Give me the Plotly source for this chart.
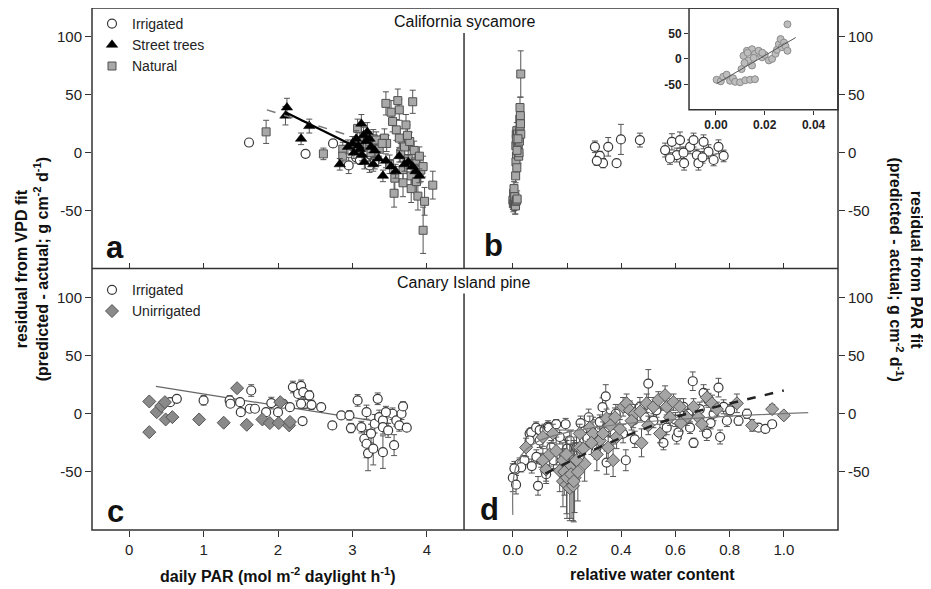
import plotly.graph_objects as go

# ---------------- DATA ----------------
# Panel a (California sycamore, residual from VPD fit vs daily PAR)
a_irr_x = [1.61, 2.37, 2.74, 2.95, 3.23, 3.05, 3.30, 3.10]
a_irr_y = [8.8, -1, 8, -11, -11, -4, -8, -6]
a_irr_e = [0, 3, 3, 7, 6, 5, 6, 4]

a_st_x = [2.12, 2.10, 2.42, 2.31, 2.83, 2.94, 3.00, 3.05, 3.08, 3.12, 3.15, 3.18, 3.20, 3.23, 3.25, 3.10,
          3.16, 3.30, 3.35, 3.41, 3.45, 3.52, 3.58, 3.63, 3.70, 3.75, 3.81, 3.85, 3.90, 3.02, 3.13, 3.28]
a_st_y = [39, 32, 23, 12, -10, 5, 8, 12, 6, 25, 15, 10, 18, 12, 5, 3,
          -8, 2, -5, -20, -7, -12, -16, -3, -10, -8, -12, -16, -20, 0, -2, -10]
a_st_e = [8, 8, 6, 5, 5, 6, 6, 7, 6, 8, 7, 6, 8, 6, 5, 5,
          6, 5, 6, 5, 6, 6, 6, 5, 6, 6, 6, 6, 6, 5, 5, 6]

a_nat_x = [1.84, 2.61, 2.87, 2.87, 3.07, 3.10, 3.20, 3.28, 3.32, 3.36, 3.43, 3.45, 3.46, 3.50, 3.54,
           3.56, 3.59, 3.61, 3.63, 3.63, 3.65, 3.68, 3.68, 3.70, 3.72, 3.75, 3.77, 3.79, 3.79, 3.81,
           3.83, 3.85, 3.88, 3.90, 3.92, 3.95, 3.95, 3.97, 4.08, 3.52, 3.40, 3.25, 3.57, 3.74, 3.86]
a_nat_y = [18, -1, 3, -3, 21, 10, 5, 12, 11, 3, 12.6, 42.6, 8, -10, 27,
           -35, 19.7, 45, 37, 12.6, 0, -14.6, -26, 5, 24, -5, 9.7, -20, -31, 44,
           2, -8, -37.5, -3, -15, -12, -67, -42, -28, 35, 8, 0, -22, 15, -25]
a_nat_e = [10, 5, 6, 5, 8, 8, 7, 8, 7, 6, 8, 10, 7, 8, 9,
           12, 9, 10, 9, 8, 8, 10, 12, 8, 9, 8, 8, 10, 12, 10,
           8, 8, 12, 8, 10, 9, 20, 12, 12, 10, 7, 6, 10, 9, 10]

a_fit_st_x = [2.10, 2.98]
a_fit_st_y = [35, 7]
a_fit_all_x = [1.85, 3.00]
a_fit_all_y = [37, 14]

# Panel b (California sycamore, residual from PAR fit vs relative water content)
b_nat_x = [0.0003, 0.002, 0.003, 0.0044, 0.0058, 0.007, 0.0079, 0.0099, 0.012, 0.014, 0.016, 0.0105,
           0.0113, 0.0127, 0.0148, 0.0134, 0.0117, 0.0148, 0.016, 0.0175, 0.0189, 0.020, 0.0217, 0.023,
           0.0244, 0.025, 0.0258, 0.0265, 0.027, 0.0279, 0.0285, 0.0293, 0.0293, 0.013, 0.0155, 0.019]
b_nat_y = [-41, -44, -35, -31, -43, -38, -45, -46, -42, -41, -40, -20,
           6, 16, 19, -3, -8, -13, 10, 16, 3, 8, -3, 0,
           10, 18, 29, 39, 23, 32, 25, 16, 68, 12, 2, 12]
b_nat_e = [8, 7, 6, 6, 7, 6, 8, 7, 6, 6, 7, 6,
           6, 6, 7, 6, 6, 6, 6, 7, 6, 6, 6, 6,
           6, 7, 8, 9, 7, 8, 7, 6, 20, 6, 6, 6]

b_irr_x = [0.303, 0.321, 0.352, 0.333, 0.310, 0.383, 0.399, 0.469, 0.562, 0.587, 0.605, 0.617, 0.632,
           0.654, 0.667, 0.679, 0.685, 0.704, 0.722, 0.741, 0.759, 0.778, 0.580, 0.630, 0.700]
b_irr_y = [5.1, -2.8, 5.1, -9, -7, -9, 11.5, 10.9, 2.3, 9.4, -2, 10.9, -9,
           5.1, 10.9, -2, -9, 9.4, 0.9, -6.3, 5.1, -2.8, -5, 0, -4]
b_irr_e = [5, 4, 8, 4, 4, 0, 13, 6, 6, 7, 6, 7, 6,
           6, 6, 5, 6, 6, 6, 5, 6, 5, 5, 5, 5]

# Inset fit (panel b column)
b_fit_x = [0.0003, 0.0327]
b_fit_y = [-48.6, 42]

# Panel c (Canary Island pine, residual from VPD fit vs daily PAR)
c_irr_x = [0.55, 0.64, 1.00, 1.35, 1.36, 1.49, 1.50, 1.62, 1.64, 1.69, 1.84, 1.91, 2.00, 2.07, 2.16,
           2.20, 2.27, 2.31, 2.34, 2.36, 2.42, 2.45, 2.31, 2.33, 2.58, 2.73, 2.85, 2.96, 2.98, 3.07,
           3.12, 3.16, 3.19, 3.19, 3.21, 3.25, 3.30, 3.34, 3.36, 3.41, 3.41, 3.28, 3.41, 3.48, 3.54,
           3.56, 3.59, 3.63, 3.66, 3.68, 3.73, 3.45]
c_irr_y = [10, 12.9, 11.5, 11.5, 8.6, 10, 1.4, 4.3, 20, 4.3, 1.4, 9.2, 1.4, 8.6, 5.7,
           23, 17, 24, 18.6, 8.6, 15.8, 7.7, 8.6, -6.3, 5.7, -10, -1.4, -1.4, -12.3, 11.5,
           -11.5, -21.5, 1.4, -25.8, -34, -17, -8.6, 12.9, -2.9, -5.7, -11.5, -30, -33, -14.3, 0,
           -27, -5.7, -10, 0, 6.3, -12, 1.4]
c_irr_e = [0, 0, 4, 4, 0, 0, 0, 0, 5, 0, 0, 5, 0, 0, 0,
           5, 6, 5, 5, 4, 4, 4, 4, 0, 0, 0, 0, 4, 4, 5,
           5, 6, 6, 12, 15, 8, 8, 5, 6, 6, 6, 14, 14, 6, 5,
           9, 5, 5, 5, 4, 0, 5]

c_un_x = [0.27, 0.27, 0.37, 0.43, 0.48, 0.49, 0.58, 0.94, 1.27, 1.45, 1.58, 1.79, 1.89, 2.01, 2.03,
          2.15, 2.16]
c_un_y = [10.6, -15.8, 1.4, 6.6, 10, -4.9, -2.9, -4.9, -7.7, 22, -9.5, -4.9, -8, -8, 10, -10, -7]

c_fit_x = [0.36, 3.50]
c_fit_y = [23.5, -8.3]

# Panel d (Canary Island pine, residual from PAR fit vs relative water content)
d_irr_x = [0.0, 0.012, 0.010, 0.025, 0.043, 0.031, 0.006, 0.062, 0.068, 0.062, 0.086, 0.099, 0.099,
           0.093, 0.105, 0.087, 0.117, 0.130, 0.133, 0.160, 0.195, 0.142, 0.123, 0.173, 0.210, 0.235,
           0.272, 0.296, 0.321, 0.346, 0.331, 0.343, 0.309, 0.370, 0.407, 0.417, 0.346, 0.444, 0.488,
           0.500, 0.469, 0.519, 0.556, 0.568, 0.605, 0.611, 0.630, 0.648, 0.664, 0.667, 0.654, 0.704,
           0.716, 0.741, 0.759, 0.765, 0.778, 0.790, 0.802, 0.833, 0.864, 0.907, 0.932, 0.957, 0.722,
           0.250, 0.280, 0.380, 0.450, 0.530, 0.600, 0.690, 0.730, 0.550, 0.200, 0.150, 0.070]
d_irr_y = [-55, -61, -48, -43, -40, -46, -47, -17, -16, -23, -12, -14, -23,
           -62, -40, -37, -14, -11, -12, -9, -9, -29, -52, -20, -23, -29,
           -20, -9, -7, -12, 5.7, 15, -29, -17, -17, -40, -42, -6, -3,
           26, 6, -6, -25, -12, -20, -16, 6, 0, 28, -25, -12, 18,
           -17, 0, 22.5, -20, 6, -6, 3, -6, 0, -12, -13, -9, 11.6,
           -8, -3, 0, -22, 3, -5, 4, -8, 10, -30, -40, -45]
d_irr_e = [12, 8, 5, 5, 4, 4, 6, 4, 4, 5, 5, 4, 6,
           8, 6, 6, 5, 5, 4, 4, 5, 6, 8, 6, 8, 9,
           8, 6, 6, 7, 8, 10, 10, 8, 8, 9, 10, 6, 7,
           12, 8, 6, 6, 6, 6, 5, 7, 6, 8, 4, 5, 7,
           6, 6, 8, 6, 6, 5, 5, 4, 4, 3, 3, 3, 6,
           6, 7, 8, 7, 6, 6, 6, 5, 7, 8, 7, 6]

d_un_x = [0.111, 0.136, 0.173, 0.185, 0.198, 0.210, 0.222, 0.228, 0.210, 0.185, 0.160, 0.247, 0.265,
          0.284, 0.296, 0.321, 0.333, 0.352, 0.370, 0.383, 0.395, 0.407, 0.420, 0.432, 0.450, 0.438,
          0.475, 0.494, 0.519, 0.537, 0.562, 0.568, 0.593, 0.617, 0.543, 0.580, 0.642, 0.667, 0.685,
          0.698, 0.716, 0.735, 0.753, 0.827, 0.883, 0.957, 1.000, 0.123, 0.049, 0.111, 0.198, 0.235,
          0.148, 0.247, 0.290, 0.346, 0.377, 0.190, 0.200, 0.215, 0.225, 0.240, 0.260, 0.310, 0.360,
          0.470, 0.500, 0.620]
d_un_y = [-40, -35, -49, -58, -61, -64, -62, -55, -46, -40, -32, -29, -43,
          -12, -17, -23, -17, -29, -40, -20, -13, 6, 9, 3, 0, -6,
          -25, 9, 6, 12, 16, 6, 10, 6, -17, -3, -3, 6, -3,
          -9, 14, 9, 4, 9, -10, 4, -1.4, -48, -29, -20, -35, -40,
          -17, -17, -25, -4, -3, -50, -55, -52, -58, -50, -30, -35, -10,
          2, -10, -8]
d_un_e = [10, 10, 18, 22, 25, 28, 30, 30, 20, 15, 12, 12, 15,
          10, 10, 12, 10, 12, 14, 10, 8, 8, 8, 8, 8, 8,
          12, 8, 8, 7, 8, 7, 7, 7, 8, 7, 7, 7, 6,
          6, 7, 7, 6, 8, 5, 4, 3, 10, 8, 8, 12, 15,
          8, 8, 10, 8, 8, 20, 35, 38, 35, 25, 12, 14, 10,
          8, 8, 7]

d_fit_log_x = [0.0, 0.005, 0.03, 0.09, 0.20, 0.40, 0.60, 0.80, 1.09]
d_fit_log_y = [-87, -52, -36, -24, -16, -9, -5, -2, 1]
d_fit_dash_x = [0.12, 0.32, 0.47, 0.62, 0.77, 1.0]
d_fit_dash_y = [-51.5, -28.7, -14.3, -1.5, 7.1, 20]

y_ticks = [-50, 0, 50, 100]
y_ticktext = ["-50", "0", "50", "100"]
par_ticks = [0, 1, 2, 3, 4]
rwc_ticks = [0.0, 0.2, 0.4, 0.6, 0.8, 1.0]
inset_xticks = [0.00, 0.02, 0.04]
inset_yticks = [-50, 0, 50]
inset_yticktext = ["-50", "0", "50"]

# ---------------- STYLE ----------------
FONT = "Liberation Sans, Arial, sans-serif"
ERR_COL = "#555555"
EDGE = "#3a3a3a"


def err(arr, w=3):
    return dict(type="data", array=arr, visible=True, color=ERR_COL, thickness=1, width=w)


irr_marker = dict(symbol="circle", size=9, color="white", line=dict(color=EDGE, width=1.2))
st_marker = dict(symbol="triangle-up", size=10, color="black", line=dict(color="black", width=0.5))
nat_marker = dict(symbol="square", size=8, color="#a8a8a8", line=dict(color="#505050", width=1))
un_marker = dict(symbol="diamond", size=10, color="#8a8a8a", line=dict(color="#555555", width=1))
un_marker_d = dict(symbol="diamond", size=10, color="#a5a5a5", line=dict(color="#555555", width=1))

fig = go.Figure()

# Panel a
fig.add_trace(go.Scatter(x=a_irr_x, y=a_irr_y, error_y=err(a_irr_e), mode="markers", marker=irr_marker,
                         name="Irrigated", xaxis="x", yaxis="y", legend="legend", legendrank=1))
fig.add_trace(go.Scatter(x=a_nat_x, y=a_nat_y, error_y=err(a_nat_e), mode="markers", marker=nat_marker,
                         name="Natural", xaxis="x", yaxis="y", legend="legend", legendrank=3))
fig.add_trace(go.Scatter(x=a_st_x, y=a_st_y, error_y=err(a_st_e), mode="markers", marker=st_marker,
                         name="Street trees", xaxis="x", yaxis="y", legend="legend", legendrank=2))
fig.add_trace(go.Scatter(x=a_fit_all_x, y=a_fit_all_y, mode="lines", line=dict(color="#777777", width=1.5, dash="dash"),
                         xaxis="x", yaxis="y", showlegend=False))
fig.add_trace(go.Scatter(x=a_fit_st_x, y=a_fit_st_y, mode="lines", line=dict(color="black", width=2.2),
                         xaxis="x", yaxis="y", showlegend=False))

# Panel b
fig.add_trace(go.Scatter(x=b_nat_x, y=b_nat_y, error_y=err(b_nat_e), mode="markers", marker=nat_marker,
                         xaxis="x2", yaxis="y2", showlegend=False))
fig.add_trace(go.Scatter(x=b_irr_x, y=b_irr_y, error_y=err(b_irr_e), mode="markers", marker=irr_marker,
                         xaxis="x2", yaxis="y2", showlegend=False))

# Inset
fig.add_trace(go.Scatter(x=b_nat_x, y=b_nat_y, mode="markers",
                         marker=dict(symbol="circle", size=7, color="#bdbdbd", line=dict(color="#8a8a8a", width=1)),
                         xaxis="x5", yaxis="y5", showlegend=False))
fig.add_trace(go.Scatter(x=b_fit_x, y=b_fit_y, mode="lines", line=dict(color="#555555", width=1),
                         xaxis="x5", yaxis="y5", showlegend=False))

# Panel c
fig.add_trace(go.Scatter(x=c_fit_x, y=c_fit_y, mode="lines", line=dict(color="#666666", width=1.2),
                         xaxis="x3", yaxis="y3", showlegend=False))
fig.add_trace(go.Scatter(x=c_irr_x, y=c_irr_y, error_y=err(c_irr_e), mode="markers", marker=irr_marker,
                         name="Irrigated", xaxis="x3", yaxis="y3", legend="legend2", legendrank=1))
fig.add_trace(go.Scatter(x=c_un_x, y=c_un_y, mode="markers", marker=un_marker,
                         name="Unirrigated", xaxis="x3", yaxis="y3", legend="legend2", legendrank=2))

# Panel d
fig.add_trace(go.Scatter(x=d_irr_x, y=d_irr_y, error_y=err(d_irr_e), mode="markers", marker=irr_marker,
                         xaxis="x4", yaxis="y4", showlegend=False))
fig.add_trace(go.Scatter(x=d_un_x, y=d_un_y, error_y=err(d_un_e), mode="markers", marker=un_marker_d,
                         xaxis="x4", yaxis="y4", showlegend=False))
fig.add_trace(go.Scatter(x=d_fit_log_x, y=d_fit_log_y, mode="lines", line=dict(color="#777777", width=1.2, shape="spline"),
                         xaxis="x4", yaxis="y4", showlegend=False))
fig.add_trace(go.Scatter(x=d_fit_dash_x, y=d_fit_dash_y, mode="lines",
                         line=dict(color="#222222", width=2.5, dash="dash", shape="spline"),
                         xaxis="x4", yaxis="y4", showlegend=False))

XM = 0.4987
YM = 0.501
tickfont = dict(family=FONT, size=15, color="#222")
common = dict(showgrid=False, zeroline=False, showline=False, tickcolor="#333", tickwidth=1)

layout = dict(
    width=931, height=589,
    margin=dict(l=84, r=101, t=0, b=67),
    paper_bgcolor="white", plot_bgcolor="white",
    font=dict(family=FONT, size=14, color="#222"),
    xaxis=dict(domain=[0, XM], range=[-0.5, 4.5], tickvals=par_ticks, ticks="inside", ticklen=5,
               showticklabels=False, anchor="y", **common),
    yaxis=dict(domain=[YM, 1], range=[-100, 125], tickvals=y_ticks, ticktext=y_ticktext, ticks="outside",
               ticklen=6, tickfont=tickfont, anchor="x", **common),
    xaxis2=dict(domain=[XM, 1], range=[-0.18, 1.2], tickvals=rwc_ticks, ticks="inside", ticklen=5,
                showticklabels=False, anchor="y2", **common),
    yaxis2=dict(domain=[YM, 1], range=[-100, 125], tickvals=y_ticks, ticktext=y_ticktext, ticks="outside",
                ticklen=6, side="right", tickfont=tickfont, anchor="x2", **common),
    xaxis3=dict(domain=[0, XM], range=[-0.5, 4.5], tickvals=par_ticks, ticks="outside", ticklen=6,
                tickfont=tickfont, anchor="y3", **common),
    yaxis3=dict(domain=[0, YM], range=[-100, 125], tickvals=y_ticks, ticktext=y_ticktext, ticks="outside",
                ticklen=6, tickfont=tickfont, anchor="x3", **common),
    xaxis4=dict(domain=[XM, 1], range=[-0.18, 1.2], tickvals=rwc_ticks, tickformat=".1f", ticks="outside",
                ticklen=6, tickfont=tickfont, anchor="y4", **common),
    yaxis4=dict(domain=[0, YM], range=[-100, 125], tickvals=y_ticks, ticktext=y_ticktext, ticks="outside",
                ticklen=6, side="right", tickfont=tickfont, anchor="x4", **common),
    xaxis5=dict(domain=[0.8003, 1], range=[-0.011, 0.05], tickvals=inset_xticks, tickformat=".2f",
                ticks="outside", ticklen=4, tickfont=dict(family=FONT, size=12, color="#222", weight="bold"),
                anchor="y5", **common),
    yaxis5=dict(domain=[0.805, 1], range=[-100, 100], tickvals=inset_yticks, ticktext=inset_yticktext,
                ticks="outside", ticklen=4,
                tickfont=dict(family=FONT, size=12, color="#222", weight="bold"), anchor="x5", **common),
    legend=dict(x=0.0, y=1.0, xanchor="left", yanchor="top", bgcolor="rgba(0,0,0,0)",
                font=dict(family=FONT, size=14, color="#222"), tracegroupgap=0),
    legend2=dict(x=0.0, y=0.49, xanchor="left", yanchor="top", bgcolor="rgba(0,0,0,0)",
                 font=dict(family=FONT, size=14, color="#222"), tracegroupgap=0),
)
fig.update_layout(**layout)

LINE = dict(color="#333333", width=1.5)
shapes = [
    dict(type="rect", xref="paper", yref="paper", x0=0, x1=1, y0=0, y1=1, line=LINE),
    dict(type="line", xref="paper", yref="paper", x0=0, x1=1, y0=YM, y1=YM, line=LINE),
    dict(type="line", xref="paper", yref="paper", x0=XM, x1=XM, y0=YM, y1=0.952, line=LINE),
    dict(type="line", xref="paper", yref="paper", x0=XM, x1=XM, y0=0, y1=0.453, line=LINE),
    dict(type="rect", xref="paper", yref="paper", x0=0.8003, x1=1, y0=0.805, y1=1, line=LINE),
]
fig.update_layout(shapes=shapes)

bold = dict(family=FONT, size=16, color="#111", weight="bold")
letter = dict(family=FONT, size=31, color="#111", weight="bold")
regular = dict(family=FONT, size=16, color="#111")
C = dict(xref="paper", yref="paper", showarrow=False, xanchor="center", yanchor="middle")
ann = [
    dict(text="California sycamore", x=XM, y=0.975, font=regular, **C),
    dict(text="Canary Island pine", x=XM, y=0.475, font=regular, **C),
    dict(text="a", x=0.031, y=0.541, font=letter, **C),
    dict(text="b", x=0.538, y=0.545, font=letter, **C),
    dict(text="c", x=0.031, y=0.036, font=letter, **C),
    dict(text="d", x=0.5335, y=0.040, font=letter, **C),
    dict(text="daily PAR (mol m<sup>-2</sup> daylight h<sup>-1</sup>)", x=0.249, y=-0.086, font=bold, **C),
    dict(text="relative water content", x=0.751, y=-0.086, font=bold, **C),
    dict(text="residual from VPD fit<br>(predicted - actual; g cm<sup>-2</sup> d<sup>-1</sup>)",
         x=-0.080, y=0.5, textangle=-90, font=bold, **C),
    dict(text="residual from PAR fit<br>(predicted - actual; g cm<sup>-2</sup> d<sup>-1</sup>)",
         x=1.0905, y=0.5, textangle=90, font=bold, **C),
]
fig.update_layout(annotations=ann)

fig.write_html("out.html")
